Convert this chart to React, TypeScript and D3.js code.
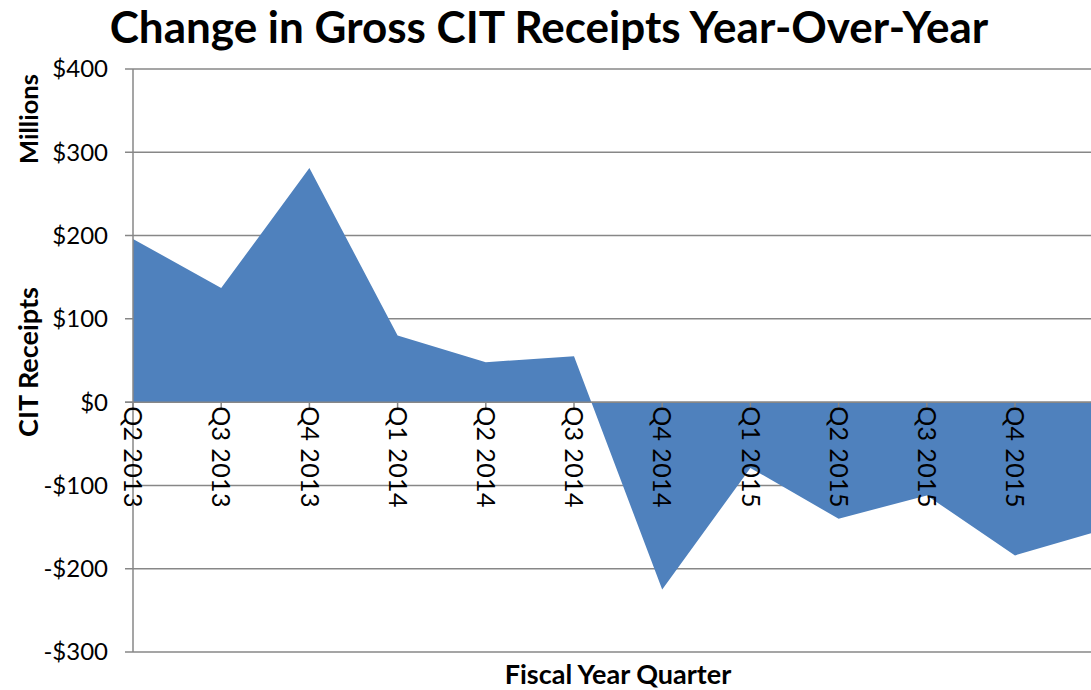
import React, { useEffect, useRef } from 'react';
import * as d3 from 'd3';

const quarters = [
  'Q2 2013', 'Q3 2013', 'Q4 2013', 'Q1 2014', 'Q2 2014', 'Q3 2014',
  'Q4 2014', 'Q1 2015', 'Q2 2015', 'Q3 2015', 'Q4 2015', 'Q1 2016',
];
const changeValues = [196, 137, 281, 80, 48, 55, -225, -79, -140, -112, -184, -153];
const yTicks = [400, 300, 200, 100, 0, -100, -200, -300];

const W = 1091;
const H = 690;
const FONT = 'Lato, "Open Sans", sans-serif';

const App = () => {
  const ref = useRef<SVGSVGElement | null>(null);

  useEffect(() => {
    if (!ref.current) return;
    const svg = d3.select(ref.current);
    svg.selectAll('*').remove();

    const left = 133;
    const x = d3.scalePoint<string>().domain(quarters).range([left, left + 88.2 * (quarters.length - 1)]);
    const y = d3.scaleLinear().domain([-300, 400]).range([652, 69]);

    const grid = '#878787';

    // gridlines + y ticks
    svg.append('g')
      .selectAll('line')
      .data(yTicks)
      .join('line')
      .attr('x1', left - 8)
      .attr('x2', W)
      .attr('y1', (d) => y(d))
      .attr('y2', (d) => y(d))
      .attr('stroke', grid)
      .attr('stroke-width', 1.5);

    // area
    const area = d3.area<number>()
      .x((_, i) => x(quarters[i]) as number)
      .y0(y(0))
      .y1((d) => y(d));
    svg.append('path')
      .datum(changeValues)
      .attr('d', area)
      .attr('fill', '#4F81BD');

    // zero line over the area
    svg.append('line')
      .attr('x1', left - 8).attr('x2', W)
      .attr('y1', y(0)).attr('y2', y(0))
      .attr('stroke', grid).attr('stroke-width', 1.5);

    // y axis line
    svg.append('line')
      .attr('x1', left).attr('x2', left)
      .attr('y1', y(400)).attr('y2', y(-300))
      .attr('stroke', grid).attr('stroke-width', 1.5);

    // x ticks
    svg.append('g')
      .selectAll('line')
      .data(quarters)
      .join('line')
      .attr('x1', (d) => x(d) as number)
      .attr('x2', (d) => x(d) as number)
      .attr('y1', y(0))
      .attr('y2', y(0) + 7)
      .attr('stroke', grid)
      .attr('stroke-width', 1.5);

    // y tick labels
    svg.append('g')
      .selectAll('text')
      .data(yTicks)
      .join('text')
      .attr('x', 108)
      .attr('y', (d) => y(d))
      .attr('dy', '0.35em')
      .attr('text-anchor', 'end')
      .attr('font-family', FONT)
      .attr('font-size', 24)
      .attr('fill', '#000')
      .text((d) => (d < 0 ? `-$${Math.abs(d)}` : `$${d}`));

    // x tick labels, rotated (only those inside the visible width)
    svg.append('g')
      .selectAll('text')
      .data(quarters.filter((q) => (x(q) as number) < W - 10))
      .join('text')
      .attr('transform', (d) => `translate(${x(d)},${y(0) + 4}) rotate(90)`)
      .attr('dy', '0.35em')
      .attr('font-family', FONT)
      .attr('font-size', 25)
      .attr('letter-spacing', 0.4)
      .attr('fill', '#000')
      .text((d) => d);

    // title
    svg.append('text')
      .attr('x', 549)
      .attr('y', 43)
      .attr('text-anchor', 'middle')
      .attr('font-family', FONT)
      .attr('font-weight', 'bold')
      .attr('font-size', 44)
      .attr('fill', '#000')
      .text('Change in Gross CIT Receipts Year-Over-Year');

    // axis titles
    svg.append('text')
      .attr('transform', 'translate(29,362) rotate(-90)')
      .attr('text-anchor', 'middle')
      .attr('dy', '0.35em')
      .attr('font-family', FONT)
      .attr('font-weight', 'bold')
      .attr('font-size', 27)
      .text('CIT Receipts');

    svg.append('text')
      .attr('transform', 'translate(29,119) rotate(-90)')
      .attr('text-anchor', 'middle')
      .attr('dy', '0.35em')
      .attr('font-family', FONT)
      .attr('font-weight', 'bold')
      .attr('font-size', 25.5)
      .text('Millions');

    svg.append('text')
      .attr('x', 618)
      .attr('y', 684)
      .attr('text-anchor', 'middle')
      .attr('font-family', FONT)
      .attr('font-weight', 'bold')
      .attr('font-size', 27)
      .text('Fiscal Year Quarter');
  }, []);

  return (
    <svg
      ref={ref}
      width={W}
      height={H}
      style={{ position: 'absolute', left: 0, top: 0, background: '#fff', overflow: 'hidden' }}
    />
  );
};

export default App;
